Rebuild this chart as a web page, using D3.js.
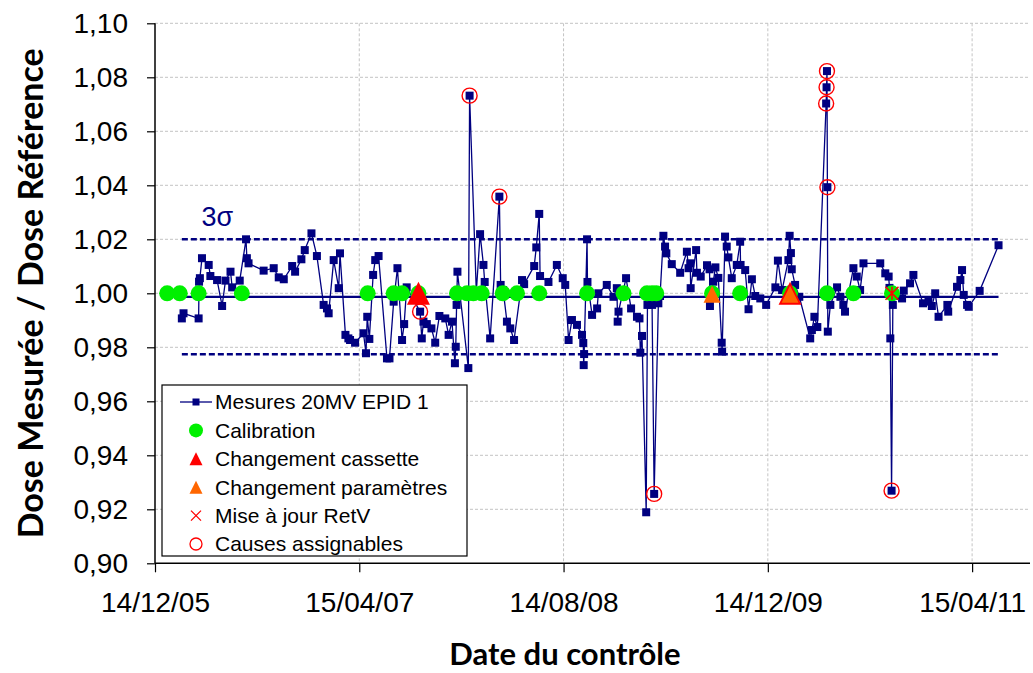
<!DOCTYPE html>
<html>
<head>
<meta charset="utf-8">
<script src="https://cdn.jsdelivr.net/npm/d3@7"></script>
<style>
  body { margin: 0; background: #fff; }
  svg { display: block; }
</style>
</head>
<body>
<svg id="chart" width="1033" height="673"></svg>
<script>
// ---- Axis definitions -------------------------------------------------
const xTickLabels = ["14/12/05", "15/04/07", "14/08/08", "14/12/09", "15/04/11"];
const xDomainEnd = "2011-08-31";
const yTicks = [0.90, 0.92, 0.94, 0.96, 0.98, 1.00, 1.02, 1.04, 1.06, 1.08, 1.10];

// ---- Control limits (mean and 3 sigma) --------------------------------
const moyenne = 0.9987;
const troisSigma = 0.0213;

// ---- Measurements: [date, measured dose / reference dose] -------------
const mesures = [
  ["2006-02-16", 0.9907], ["2006-02-20", 0.9926], ["2006-03-28", 0.9907], ["2006-03-29", 1.0043],
  ["2006-03-31", 1.0056], ["2006-04-05", 1.0130], ["2006-04-21", 1.0105], ["2006-04-25", 1.0064],
  ["2006-05-11", 1.0049], ["2006-05-23", 0.9953], ["2006-05-31", 1.0047], ["2006-06-12", 1.0080],
  ["2006-06-16", 1.0022], ["2006-07-04", 1.0047], ["2006-07-19", 1.0200], ["2006-07-21", 1.0130],
  ["2006-07-25", 1.0111], ["2006-08-30", 1.0084], ["2006-09-23", 1.0093], ["2006-10-05", 1.0059],
  ["2006-10-17", 1.0052], ["2006-11-06", 1.0101], ["2006-11-13", 1.0080], ["2006-11-28", 1.0126],
  ["2006-12-06", 1.0160], ["2006-12-22", 1.0222], ["2007-01-04", 1.0138], ["2007-01-20", 0.9957],
  ["2007-01-28", 0.9944], ["2007-02-01", 0.9926], ["2007-02-13", 1.0123], ["2007-02-25", 1.0019],
  ["2007-02-28", 1.0148], ["2007-03-13", 0.9846], ["2007-03-20", 0.9833], ["2007-03-24", 0.9827],
  ["2007-04-05", 0.9817], ["2007-04-25", 0.9852], ["2007-05-01", 0.9778], ["2007-05-04", 0.9913],
  ["2007-05-09", 0.9831], ["2007-05-18", 1.0068], ["2007-05-23", 1.0123], ["2007-05-31", 1.0138],
  ["2007-06-20", 0.9759], ["2007-06-26", 0.9759], ["2007-07-06", 0.9969], ["2007-07-15", 1.0093],
  ["2007-07-26", 0.9827], ["2007-07-31", 0.9886], ["2007-08-06", 1.0022], ["2007-09-07", 0.9932],
  ["2007-09-11", 0.9833], ["2007-09-15", 0.9895], ["2007-09-23", 0.9886], ["2007-10-04", 0.9870],
  ["2007-10-13", 0.9817], ["2007-10-23", 0.9916], ["2007-11-06", 0.9907], ["2007-11-14", 0.9846],
  ["2007-11-22", 0.9895], ["2007-11-29", 0.9741], ["2007-12-01", 0.9802], ["2007-12-03", 0.9957],
  ["2007-12-05", 1.0080], ["2007-12-31", 0.9723], ["2008-01-03", 1.0732], ["2008-01-19", 1.0005],
  ["2008-01-28", 1.0219], ["2008-02-05", 1.0105], ["2008-02-08", 1.0042], ["2008-02-21", 0.9833],
  ["2008-03-14", 1.0358], ["2008-03-17", 1.0031], ["2008-03-23", 1.0012], ["2008-04-01", 0.9895],
  ["2008-04-09", 0.9870], ["2008-04-18", 0.9827], ["2008-05-07", 1.0049], ["2008-05-12", 1.0034],
  ["2008-06-05", 1.0101], ["2008-06-10", 1.0170], ["2008-06-17", 1.0294], ["2008-06-19", 1.0064],
  ["2008-07-09", 1.0042], ["2008-07-29", 1.0105], ["2008-08-12", 1.0056], ["2008-08-18", 1.0031],
  ["2008-08-26", 0.9827], ["2008-09-03", 0.9901], ["2008-09-15", 0.9883], ["2008-09-27", 0.9846],
  ["2008-09-30", 0.9816], ["2008-10-01", 0.9734], ["2008-10-02", 0.9775], ["2008-10-09", 1.0200],
  ["2008-10-10", 1.0042], ["2008-10-21", 0.9920], ["2008-11-02", 0.9944], ["2008-11-05", 1.0000],
  ["2008-11-25", 1.0031], ["2008-12-11", 0.9987], ["2008-12-19", 1.0019], ["2008-12-21", 0.9895],
  ["2008-12-23", 0.9932], ["2009-01-10", 1.0056], ["2009-01-22", 0.9944], ["2009-02-05", 0.9913],
  ["2009-02-11", 0.9907], ["2009-02-13", 0.9780], ["2009-02-17", 0.9842], ["2009-02-27", 0.9189],
  ["2009-03-02", 0.9957], ["2009-03-13", 0.9957], ["2009-03-18", 0.9257], ["2009-03-28", 0.9963],
  ["2009-04-01", 0.9990], ["2009-04-09", 1.0213], ["2009-04-13", 1.0173], ["2009-04-16", 1.0148],
  ["2009-04-29", 1.0108], ["2009-05-19", 1.0076], ["2009-06-04", 1.0154], ["2009-06-08", 1.0093],
  ["2009-06-12", 1.0111], ["2009-06-13", 1.0019], ["2009-06-26", 1.0160], ["2009-06-28", 1.0076],
  ["2009-07-07", 1.0062], ["2009-07-22", 1.0104], ["2009-07-28", 1.0089], ["2009-07-29", 0.9953],
  ["2009-08-06", 1.0043], ["2009-08-11", 1.0096], ["2009-08-18", 1.0057], ["2009-08-26", 0.9817],
  ["2009-08-27", 0.9784], ["2009-09-03", 1.0210], ["2009-09-07", 1.0173], ["2009-09-11", 1.0133],
  ["2009-09-19", 1.0056], ["2009-10-01", 1.0105], ["2009-10-09", 1.0191], ["2009-10-10", 1.0105],
  ["2009-10-21", 1.0086], ["2009-10-29", 0.9941], ["2009-11-06", 1.0052], ["2009-11-14", 0.9990],
  ["2009-11-26", 0.9981], ["2009-12-10", 0.9957], ["2010-01-01", 1.0022], ["2010-01-07", 1.0121],
  ["2010-01-17", 1.0012], ["2010-02-01", 1.0123], ["2010-02-04", 1.0213], ["2010-02-07", 1.0149],
  ["2010-02-09", 1.0089], ["2010-02-17", 1.0031], ["2010-02-27", 0.9987], ["2010-03-25", 0.9833],
  ["2010-03-29", 0.9864], ["2010-04-04", 0.9913], ["2010-04-11", 0.9875], ["2010-05-02", 1.0703],
  ["2010-05-03", 1.0763], ["2010-05-04", 1.0823], ["2010-05-05", 1.0393], ["2010-05-06", 0.9858],
  ["2010-05-12", 0.9957], ["2010-05-28", 1.0022], ["2010-06-05", 0.9987], ["2010-06-12", 0.9957],
  ["2010-06-16", 0.9932], ["2010-07-06", 1.0093], ["2010-07-14", 1.0062], ["2010-07-22", 1.0012],
  ["2010-07-30", 1.0111], ["2010-09-08", 1.0111], ["2010-09-20", 1.0074], ["2010-09-28", 1.0062],
  ["2010-09-30", 1.0020], ["2010-10-02", 0.9833], ["2010-10-05", 0.9269], ["2010-10-08", 0.9957],
  ["2010-10-13", 0.9990], ["2010-10-30", 0.9981], ["2010-11-03", 1.0010], ["2010-11-18", 1.0037],
  ["2010-11-26", 1.0068], ["2010-12-19", 0.9963], ["2011-01-01", 0.9969], ["2011-01-09", 0.9953],
  ["2011-01-17", 1.0000], ["2011-01-25", 0.9913], ["2011-02-15", 0.9957], ["2011-02-17", 0.9932],
  ["2011-03-10", 1.0024], ["2011-03-18", 1.0049], ["2011-03-22", 1.0086], ["2011-03-26", 0.9994],
  ["2011-04-03", 0.9957], ["2011-04-07", 0.9950], ["2011-05-03", 1.0009], ["2011-06-17", 1.0178]
];

// ---- Events (plotted on the 1,00 level) --------------------------------
const niveauEvenement = 1.00;
const calibrations = [
  "2006-01-12", "2006-02-11", "2006-03-28", "2006-07-09", "2007-05-05", "2007-07-06",
  "2007-07-26", "2007-09-03", "2007-12-04", "2007-12-28", "2008-01-12", "2008-02-01",
  "2008-03-22", "2008-04-25", "2008-06-17", "2008-10-09", "2009-01-04", "2009-03-01",
  "2009-03-13", "2009-03-23", "2009-08-03", "2009-10-09", "2010-02-05", "2010-05-04",
  "2010-07-06", "2010-10-06"
];
const changementsCassette = ["2007-09-03", "2010-02-05"];
const changementsParametres = ["2009-08-03", "2010-02-05"];
const misesAJourRetV = ["2010-10-06"];
// Measurements with an assignable cause
const causesAssignables = [
  "2007-09-07", "2008-01-03", "2008-03-14", "2009-03-18",
  "2010-05-02", "2010-05-03", "2010-05-04", "2010-05-05", "2010-10-05"
];

// ---- Layout -------------------------------------------------------------
const NAVY = "#000080", GREEN = "#00f000", RED = "#ff0000", ORANGE = "#ff6600";
const FONT = "'Liberation Sans', Arial, sans-serif";
const TITLE_FONT = "Lato, 'Open Sans', sans-serif";
const plot = { left: 155, top: 23.3, right: 1030, bottom: 563.3 };

const parseISO = d3.timeParse("%Y-%m-%d");
const parseTick = d3.timeParse("%d/%m/%y");
const fmtTick = d3.timeFormat("%d/%m/%y");
const xTickDates = xTickLabels.map(parseTick);

const x = d3.scaleTime()
  .domain([xTickDates[0], parseISO(xDomainEnd)])
  .range([plot.left, plot.right]);
const y = d3.scaleLinear()
  .domain([yTicks[0], yTicks[yTicks.length - 1]])
  .range([plot.bottom, plot.top]);

const data = mesures.map(([d, v]) => ({ date: parseISO(d), value: v }));
const byDate = new Map(mesures.map(([d, v]) => [d, v]));

const svg = d3.select("#chart");

// ---- Gridlines ----------------------------------------------------------
const grid = svg.append("g").attr("stroke", "#c4c4c4").attr("stroke-width", 1)
  .attr("stroke-dasharray", "3,2");
grid.selectAll("line.h").data(yTicks.slice(1)).join("line")
  .attr("x1", plot.left).attr("x2", plot.right)
  .attr("y1", d => y(d)).attr("y2", d => y(d));
grid.selectAll("line.v").data(xTickDates.slice(1)).join("line")
  .attr("x1", d => x(d)).attr("x2", d => x(d))
  .attr("y1", plot.top).attr("y2", plot.bottom);

// ---- Control limits -----------------------------------------------------
const first = data[0].date, last = data[data.length - 1].date;
const limits = svg.append("g").attr("stroke", NAVY).attr("fill", "none");
limits.append("line")
  .attr("x1", x(first)).attr("x2", x(last))
  .attr("y1", y(moyenne)).attr("y2", y(moyenne))
  .attr("stroke-width", 2.2);
[moyenne + troisSigma, moyenne - troisSigma].forEach(v => {
  limits.append("line")
    .attr("x1", x(first)).attr("x2", x(last))
    .attr("y1", y(v)).attr("y2", y(v))
    .attr("stroke-width", 2.4).attr("stroke-dasharray", "6,3");
});
svg.append("text")
  .attr("x", x(parseISO("2006-04-04"))).attr("y", y(moyenne + troisSigma) - 13)
  .attr("font-family", FONT).attr("font-size", 27).attr("fill", NAVY)
  .text("3σ");

// ---- Measurement series -------------------------------------------------
svg.append("path").datum(data)
  .attr("fill", "none").attr("stroke", NAVY).attr("stroke-width", 1.3)
  .attr("d", d3.line().x(d => x(d.date)).y(d => y(d.value)));
const SQ = 8;
svg.append("g").selectAll("rect").data(data).join("rect")
  .attr("x", d => x(d.date) - SQ / 2).attr("y", d => y(d.value) - SQ / 2)
  .attr("width", SQ).attr("height", SQ).attr("fill", NAVY);

// ---- Event markers ------------------------------------------------------
const tri = s => `M0,${-s / 2}L${s / 2},${s / 2}L${-s / 2},${s / 2}Z`;
svg.append("g").selectAll("circle").data(calibrations).join("circle")
  .attr("cx", d => x(parseISO(d))).attr("cy", y(niveauEvenement))
  .attr("r", 8).attr("fill", GREEN);
svg.append("g").selectAll("path").data(changementsCassette).join("path")
  .attr("transform", d => `translate(${x(parseISO(d))},${y(niveauEvenement)})`)
  .attr("d", tri(23)).attr("fill", RED);
svg.append("g").selectAll("path").data(changementsParametres).join("path")
  .attr("transform", d => `translate(${x(parseISO(d))},${y(niveauEvenement) + 1})`)
  .attr("d", tri(17)).attr("fill", ORANGE);
const star = s => `M${-s / 2},${-s / 2}L${s / 2},${s / 2}M${-s / 2},${s / 2}L${s / 2},${-s / 2}M0,${-s / 2}L0,${s / 2}`;
svg.append("g").selectAll("path").data(misesAJourRetV).join("path")
  .attr("transform", d => `translate(${x(parseISO(d))},${y(niveauEvenement)})`)
  .attr("d", star(13)).attr("stroke", RED).attr("stroke-width", 1.5).attr("fill", "none");
svg.append("g").selectAll("circle").data(causesAssignables).join("circle")
  .attr("cx", d => x(parseISO(d))).attr("cy", d => y(byDate.get(d)))
  .attr("r", 7.5).attr("fill", "none").attr("stroke", RED).attr("stroke-width", 1.4);

// ---- Axes ---------------------------------------------------------------
const yAxis = svg.append("g").attr("transform", `translate(${plot.left},0)`)
  .call(d3.axisLeft(y).tickValues(yTicks).tickSize(8).tickPadding(19)
    .tickFormat(d => d3.format(".2f")(d).replace(".", ",")));
const xAxis = svg.append("g").attr("transform", `translate(0,${plot.bottom})`)
  .call(d3.axisBottom(x).tickValues(xTickDates).tickSize(9).tickPadding(20)
    .tickFormat(fmtTick));
[yAxis, xAxis].forEach(a => {
  a.select(".domain").attr("stroke", "#000").attr("stroke-width", 1.5);
  a.selectAll(".tick line").attr("stroke", "#000").attr("stroke-width", 1.2);
  a.selectAll("text").attr("font-family", FONT).attr("font-size", 28).attr("fill", "#000");
});
yAxis.select(".domain").attr("d", `M0,${plot.top}V${plot.bottom}`);
xAxis.select(".domain").attr("d", `M${plot.left},0H${plot.right}`);

// ---- Axis titles --------------------------------------------------------
svg.append("text")
  .attr("transform", `translate(43,${(plot.top + plot.bottom) / 2}) rotate(-90)`)
  .attr("text-anchor", "middle").attr("font-family", TITLE_FONT)
  .attr("font-weight", "bold").attr("font-size", 34).attr("fill", "#000")
  .text("Dose Mesurée / Dose Référence");
svg.append("text")
  .attr("x", 565).attr("y", 665)
  .attr("text-anchor", "middle").attr("font-family", TITLE_FONT)
  .attr("font-weight", "bold").attr("font-size", 31).attr("fill", "#000")
  .text("Date du contrôle");

// ---- Legend -------------------------------------------------------------
const legend = svg.append("g").attr("transform", "translate(162,385)");
legend.append("rect").attr("width", 305).attr("height", 171)
  .attr("fill", "#fff").attr("stroke", "#000").attr("stroke-width", 1.2);
const items = [
  { label: "Mesures 20MV EPID 1", kind: "serie" },
  { label: "Calibration", kind: "calib" },
  { label: "Changement cassette", kind: "cassette" },
  { label: "Changement paramètres", kind: "param" },
  { label: "Mise à jour RetV", kind: "retv" },
  { label: "Causes assignables", kind: "cause" }
];
const rowY = i => 17 + i * 28.4;
const sx = 34;
items.forEach((it, i) => {
  const g = legend.append("g").attr("transform", `translate(${sx},${rowY(i)})`);
  if (it.kind === "serie") {
    g.append("line").attr("x1", -16).attr("x2", 16).attr("stroke", NAVY).attr("stroke-width", 1.3);
    g.append("rect").attr("x", -3.5).attr("y", -3.5).attr("width", 7).attr("height", 7).attr("fill", NAVY);
  } else if (it.kind === "calib") {
    g.append("circle").attr("r", 7).attr("fill", GREEN);
  } else if (it.kind === "cassette") {
    g.append("path").attr("d", tri(13)).attr("fill", RED);
  } else if (it.kind === "param") {
    g.append("path").attr("d", tri(13)).attr("fill", ORANGE);
  } else if (it.kind === "retv") {
    g.append("path").attr("d", `M-5,-5L5,5M-5,5L5,-5`).attr("stroke", RED).attr("stroke-width", 1.3);
  } else {
    g.append("circle").attr("r", 6).attr("fill", "none").attr("stroke", RED).attr("stroke-width", 1.3);
  }
  legend.append("text").attr("x", 53).attr("y", rowY(i)).attr("dy", "0.35em")
    .attr("font-family", FONT).attr("font-size", 21).attr("fill", "#000")
    .text(it.label);
});
</script>
</body>
</html>
